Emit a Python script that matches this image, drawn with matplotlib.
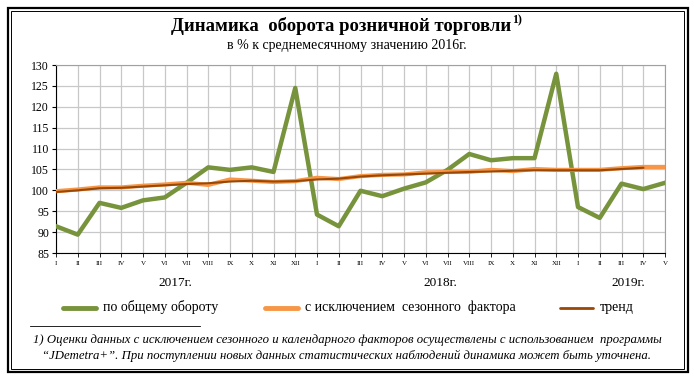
import numpy as np
import matplotlib
matplotlib.use('Agg')
import matplotlib.pyplot as plt
from matplotlib.lines import Line2D
from matplotlib.patches import Rectangle

# --- данные ---
months = ['I', 'II', 'III', 'IV', 'V', 'VI', 'VII', 'VIII', 'IX', 'X', 'XI', 'XII',
          'I', 'II', 'III', 'IV', 'V', 'VI', 'VII', 'VIII', 'IX', 'X', 'XI', 'XII',
          'I', 'II', 'III', 'IV', 'V']
years = ['2017г.', '2018г.', '2019г.']

total = [91.4, 89.4, 97.0, 95.8, 97.6, 98.3, 101.8, 105.5, 104.9, 105.5, 104.4, 124.5,
         94.2, 91.4, 99.9, 98.6, 100.4, 101.9, 104.9, 108.7, 107.2, 107.7, 107.7, 127.9,
         96.0, 93.4, 101.6, 100.3, 101.8]
seas_adj = [99.8, 100.2, 100.7, 100.7, 101.1, 101.4, 101.8, 101.3, 102.6, 102.3, 102.0, 102.2,
            103.0, 102.7, 103.4, 103.7, 103.8, 104.3, 104.4, 104.4, 104.9, 104.6, 105.1, 104.9,
            104.9, 104.9, 105.3, 105.6, 105.6]
trend = [99.6, 100.0, 100.5, 100.6, 100.9, 101.2, 101.5, 101.7, 102.1, 102.3, 102.1, 102.2,
         102.6, 102.8, 103.3, 103.6, 103.8, 104.0, 104.2, 104.4, 104.5, 104.7, 104.8, 104.8,
         104.8, 104.8, 105.1, 105.4]

GREEN = '#77933C'
ORANGE = '#F79646'
BROWN = '#984807'

plt.rcParams['font.family'] = 'Liberation Serif'

fig = plt.figure(figsize=(6.94, 3.77), dpi=100)

# рамка (двойная)
fig.patches.append(Rectangle((7.5/694, 5.5/377), 680/694, 364/377, transform=fig.transFigure,
                             fill=False, lw=1.6, ec='black'))
fig.patches.append(Rectangle((11/694, 8.5/377), 673/694, 358/377, transform=fig.transFigure,
                             fill=False, lw=0.7, ec='black'))

# заголовок + верхний индекс сразу после него
t = fig.text(0.492, 1 - 26/377, 'Динамика  оборота розничной торговли', ha='center', va='center',
             fontsize=13.5, fontweight='bold')
bb = t.get_window_extent(renderer=fig.canvas.get_renderer())
fig.text(bb.x1/694 + 0.001, 1 - 20/377, '1)', ha='left', va='center', fontsize=8.5, fontweight='bold')
fig.text(0.5, 1 - 46/377, 'в % к среднемесячному значению 2016г.', ha='center', va='center',
         fontsize=10)

ax = fig.add_axes([56/694, 1 - 253/377, 609/694, 188/377])
x = np.arange(len(months))
ax.plot(x, total, color=GREEN, lw=3.2, zorder=3)
ax.plot(x, seas_adj, color=ORANGE, lw=3.0, zorder=4)
ax.plot(np.arange(len(trend)), trend, color=BROWN, lw=1.5, zorder=5)

ax.set_xlim(0, len(months) - 1)
ax.set_ylim(85, 130)
ax.set_yticks(np.arange(85, 131, 5))
ax.set_xticks(x)
ax.set_xticklabels(months, fontsize=5)
ax.tick_params(axis='y', labelsize=8.5, length=3, width=0.8, pad=2)
ax.tick_params(axis='x', length=3, width=0.6, pad=3)
ax.grid(True, color='#C8C8C8', lw=0.9)
ax.set_axisbelow(True)
for s in ['top', 'right']:
    ax.spines[s].set_color('#A0A0A0')
for s in ['left', 'bottom']:
    ax.spines[s].set_color('black')
    ax.spines[s].set_linewidth(0.8)

# годы
for xp, yr in zip([175, 440, 628], years):
    fig.text(xp/694, 1 - 283/377, yr, ha='center', va='center', fontsize=9.5)

# легенда
leg = [(63, GREEN, 3.5, 'по общему обороту'),
       (265, ORANGE, 3.5, 'с исключением  сезонного  фактора'),
       (560, BROWN, 2.0, 'тренд')]
for xs, c, w, lab in leg:
    fig.add_artist(Line2D([xs/694, (xs + 33)/694], [1 - 308/377] * 2, color=c, lw=w,
                          solid_capstyle='round', transform=fig.transFigure))
    fig.text((xs + 40)/694, 1 - 307/377, lab, ha='left', va='center', fontsize=10)

# сноска
fig.add_artist(Line2D([30/694, 200/694], [1 - 326/377] * 2, color='black', lw=0.6,
                      transform=fig.transFigure))
fig.text(0.5, 1 - 340/377, '1) Оценки данных с исключением сезонного и календарного факторов осуществлены с использованием  программы',
         ha='center', va='center', fontsize=9.2, style='italic')
fig.text(0.5, 1 - 356/377, '“JDemetra+”. При поступлении новых данных статистических наблюдений динамика может быть уточнена.',
         ha='center', va='center', fontsize=9.2, style='italic')

fig.savefig('out.png', dpi=100)
